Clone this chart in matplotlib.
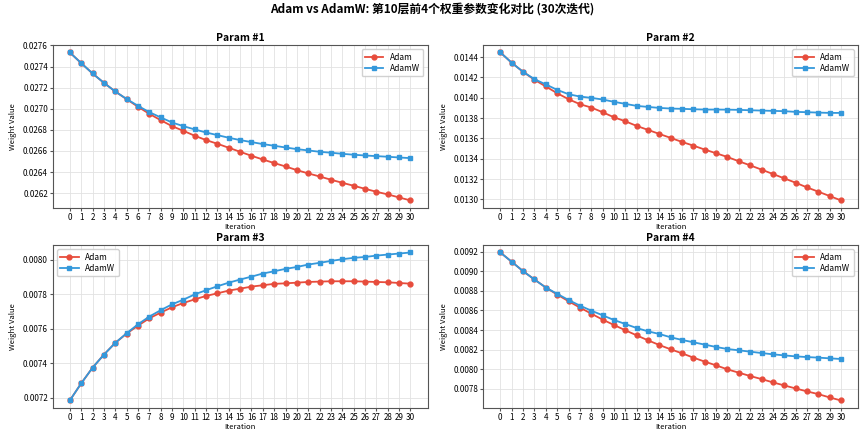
import numpy as np
import matplotlib
matplotlib.use("Agg")
import matplotlib.pyplot as plt

plt.rcParams['font.family'] = ['Noto Sans CJK SC', 'DejaVu Sans']
plt.rcParams['axes.unicode_minus'] = False

iterations = list(range(31))

p1_adam = [0.027534, 0.027433, 0.027335, 0.027246, 0.027164, 0.027091, 0.027019, 0.026952,
           0.026892, 0.026835, 0.026791, 0.026744, 0.026703, 0.026668, 0.026630, 0.026592,
           0.026554, 0.026519, 0.026485, 0.026453, 0.026418, 0.026387, 0.026358, 0.026327,
           0.026298, 0.026270, 0.026241, 0.026213, 0.026188, 0.026159, 0.026131]
p1_adamw = [0.027534, 0.027433, 0.027335, 0.027246, 0.027164, 0.027093, 0.027028, 0.026968,
            0.026918, 0.026870, 0.026835, 0.026804, 0.026775, 0.026750, 0.026725, 0.026703,
            0.026684, 0.026665, 0.026649, 0.026633, 0.026617, 0.026605, 0.026592, 0.026583,
            0.026573, 0.026564, 0.026557, 0.026551, 0.026545, 0.026538, 0.026532]

p2_adam = [0.014446, 0.014344, 0.014255, 0.014177, 0.014111, 0.014045, 0.013986, 0.013937,
           0.013904, 0.013858, 0.013808, 0.013769, 0.013723, 0.013684, 0.013644, 0.013605,
           0.013565, 0.013529, 0.013490, 0.013454, 0.013417, 0.013375, 0.013335, 0.013293,
           0.013250, 0.013207, 0.013164, 0.013118, 0.013076, 0.013033, 0.012990]
p2_adamw = [0.014446, 0.014344, 0.014255, 0.014183, 0.014131, 0.014078, 0.014035, 0.014012,
            0.013999, 0.013983, 0.013960, 0.013940, 0.013920, 0.013910, 0.013900, 0.013894,
            0.013891, 0.013887, 0.013884, 0.013884, 0.013883, 0.013881, 0.013877, 0.013874,
            0.013871, 0.013868, 0.013861, 0.013858, 0.013854, 0.013851, 0.013851]

p3_adam = [0.007184, 0.007283, 0.007374, 0.007450, 0.007518, 0.007572, 0.007618, 0.007661,
           0.007694, 0.007725, 0.007750, 0.007771, 0.007791, 0.007806, 0.007822, 0.007833,
           0.007845, 0.007853, 0.007861, 0.007864, 0.007868, 0.007872, 0.007874, 0.007876,
           0.007876, 0.007876, 0.007874, 0.007872, 0.007870, 0.007866, 0.007862]
p3_adamw = [0.007184, 0.007283, 0.007374, 0.007450, 0.007518, 0.007574, 0.007626, 0.007671,
            0.007708, 0.007742, 0.007769, 0.007800, 0.007824, 0.007847, 0.007868, 0.007886,
            0.007903, 0.007921, 0.007934, 0.007948, 0.007959, 0.007973, 0.007983, 0.007994,
            0.008004, 0.008012, 0.008017, 0.008025, 0.008031, 0.008037, 0.008043]

p4_adam = [0.009193, 0.009098, 0.009002, 0.008917, 0.008835, 0.008763, 0.008695, 0.008630,
           0.008568, 0.008507, 0.008452, 0.008398, 0.008346, 0.008295, 0.008247, 0.008203,
           0.008162, 0.008118, 0.008077, 0.008039, 0.007998, 0.007964, 0.007930, 0.007899,
           0.007865, 0.007834, 0.007803, 0.007773, 0.007745, 0.007711, 0.007680]
p4_adamw = [0.009193, 0.009098, 0.009002, 0.008917, 0.008835, 0.008770, 0.008708, 0.008650,
            0.008599, 0.008551, 0.008503, 0.008462, 0.008421, 0.008387, 0.008360, 0.008326,
            0.008299, 0.008275, 0.008251, 0.008227, 0.008206, 0.008193, 0.008179, 0.008165,
            0.008152, 0.008141, 0.008131, 0.008124, 0.008118, 0.008111, 0.008104]

titles = ["Param #1", "Param #2", "Param #3", "Param #4"]
adam_series = [p1_adam, p2_adam, p3_adam, p4_adam]
adamw_series = [p1_adamw, p2_adamw, p3_adamw, p4_adamw]
legend_locs = ["upper right", "upper right", "upper left", "upper right"]

fig, axes = plt.subplots(2, 2, figsize=(8.65, 4.33), dpi=100)
plt.subplots_adjust(left=0.061, right=0.992, top=0.896, bottom=0.058, wspace=0.149, hspace=0.229)

for i, ax in enumerate(axes.flat):
    ax.plot(iterations, adam_series[i], color="#e74c3c", marker="o", markersize=3.5,
            linewidth=1.3, label="Adam")
    ax.plot(iterations, adamw_series[i], color="#3498db", marker="s", markersize=3.5,
            linewidth=1.3, label="AdamW")
    ax.set_title(titles[i], fontsize=7.5, fontweight="bold", pad=3)
    ax.set_ylabel("Weight Value", fontsize=5.5)
    ax.set_xlabel("Iteration", fontsize=5.5, labelpad=1)
    ax.set_xticks(iterations)
    ax.tick_params(labelsize=5.8, length=2, pad=1.5, color="#555555")
    ax.grid(True, color="#e2e2e2", linewidth=0.6)
    ax.set_axisbelow(True)
    for s in ax.spines.values():
        s.set_color("#555555")
        s.set_linewidth(0.8)
    ax.yaxis.set_major_formatter(matplotlib.ticker.FormatStrFormatter("%.4f"))
    ax.legend(loc=legend_locs[i], fontsize=6, handlelength=2.2, borderpad=0.4,
              labelspacing=0.3, framealpha=0.9)

fig.suptitle("Adam vs AdamW: 第10层前4个权重参数变化对比 (30次迭代)", fontsize=8.5,
             fontweight="bold", y=0.995)

plt.savefig("out.png", dpi=100)
